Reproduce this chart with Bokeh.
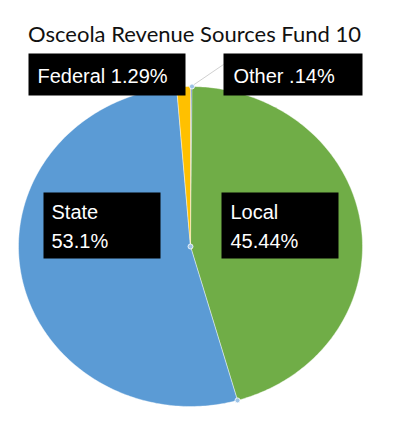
import numpy as np
from bokeh.plotting import figure
from bokeh.models import Range1d
from bokeh.core.properties import value
from bokeh.embed import file_html
from bokeh.resources import INLINE

# ---- data (clockwise from 12 o'clock) ----
categories = ["Other", "Local", "State", "Federal"]
percents = [0.14, 45.44, 53.1, 1.29]
label_texts = ["Other .14%", "Local\n45.44%", "State\n53.1%", "Federal 1.29%"]
colors = ["#4472C4", "#70AD47", "#5B9BD5", "#FFC000"]
title_text = "Osceola Revenue Sources Fund 10"

# ---- layout ----
W, H = 398, 425
cx, cy = 190, 246
rx, ry = 172, 160

p = figure(width=W, height=H, output_backend="svg", toolbar_location=None,
           x_range=Range1d(0, W), y_range=Range1d(H, 0), min_border=0)
p.axis.visible = False
p.grid.visible = False
p.outline_line_color = None
p.background_fill_color = "white"
p.border_fill_color = "white"

vals = np.array(percents, dtype=float)
fr = vals / vals.sum()
ends = np.cumsum(fr) * 2 * np.pi
starts = ends - fr * 2 * np.pi

xs, ys = [], []
for a0, a1 in zip(starts, ends):
    n = max(4, int((a1 - a0) / (2 * np.pi) * 400))
    t = np.linspace(a0, a1, n)
    xs.append([cx] + list(cx + rx * np.sin(t)) + [cx])
    ys.append([cy] + list(cy - ry * np.cos(t)) + [cy])

p.patches(xs=xs, ys=ys, fill_color=colors, line_color="white",
          line_width=0.6, line_alpha=0.7)

# leader line for the tiny "Other" slice
mid_other = (starts[0] + ends[0]) / 2
ox, oy = cx + rx * np.sin(mid_other), cy - ry * np.cos(mid_other)
p.segment(x0=[ox], y0=[oy], x1=[223], y1=[64], line_color="#d0d0d0", line_width=1)

# label boxes
box_l = [223, 221, 43, 28]
box_r = [362, 338, 160, 185]
box_t = [53, 192, 192, 53]
box_b = [95, 258, 258, 95]
p.quad(left=box_l, right=box_r, top=box_t, bottom=box_b, fill_color="black", line_color=None)

tx = [233, 230, 51, 37]
ty = [75, 226, 226, 75]
p.text(x=tx, y=ty, text=label_texts, text_color="white",
       text_font=value("Liberation Sans"), text_font_size="20px",
       text_baseline="middle", text_line_height=1.3)

# selection handles of the Local slice
hx = [cx, cx + rx * np.sin(starts[1]), cx + rx * np.sin(ends[1])]
hy = [cy, cy - ry * np.cos(starts[1]), cy - ry * np.cos(ends[1])]
p.scatter(hx, hy, size=5, fill_color="#9dc3e6", line_color="white", line_width=0.8)

# title
p.text(x=[194], y=[33], text=[title_text], text_color="#111111",
       text_font=value("Lato"), text_font_size="22px",
       text_align="center", text_baseline="alphabetic")

open("out.html", "w").write(file_html(p, INLINE))
